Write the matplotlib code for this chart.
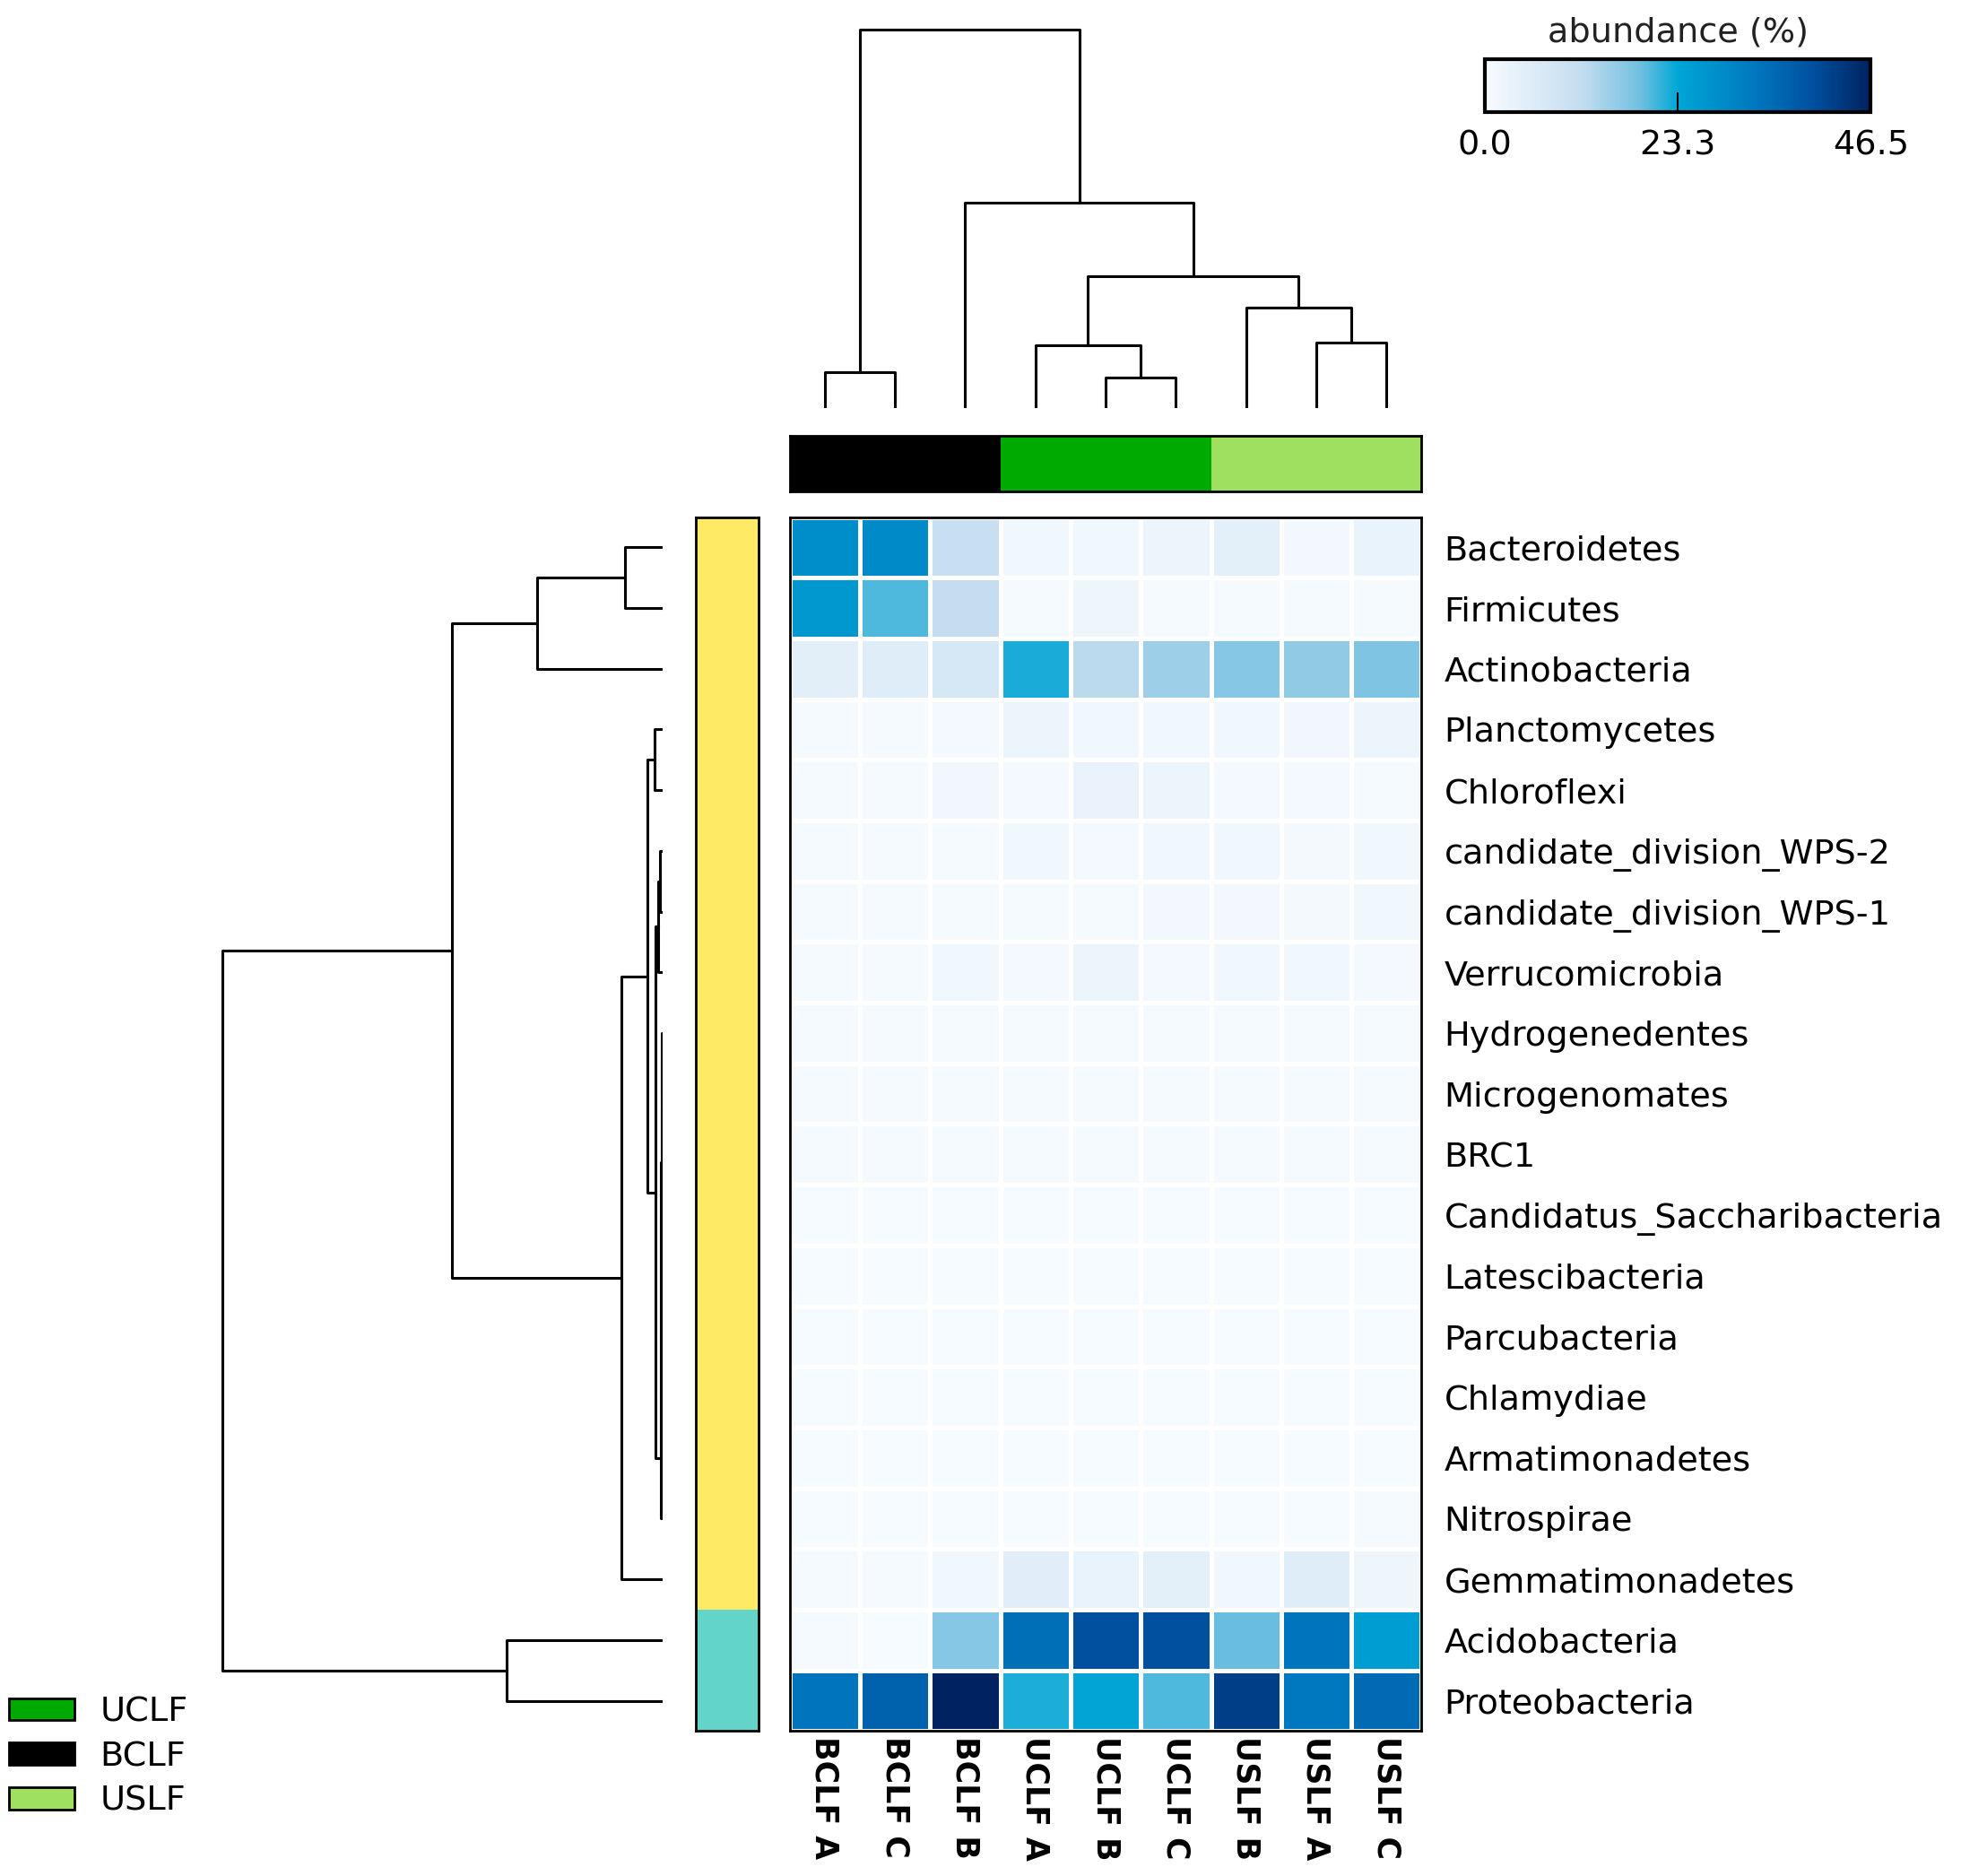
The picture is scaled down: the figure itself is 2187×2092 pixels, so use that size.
import numpy as np
import matplotlib
matplotlib.use("Agg")
import matplotlib.pyplot as plt
from matplotlib.colors import LinearSegmentedColormap, ListedColormap
from matplotlib.patches import Patch

# samples (column order after clustering)
samples = ["BCLF A", "BCLF C", "BCLF B", "UCLF A", "UCLF B", "UCLF C",
           "USLF B", "USLF A", "USLF C"]
sample_groups = ["BCLF", "BCLF", "BCLF", "UCLF", "UCLF", "UCLF",
                 "USLF", "USLF", "USLF"]

phyla = ["Bacteroidetes", "Firmicutes", "Actinobacteria", "Planctomycetes",
         "Chloroflexi", "candidate_division_WPS-2", "candidate_division_WPS-1",
         "Verrucomicrobia", "Hydrogenedentes", "Microgenomates", "BRC1",
         "Candidatus_Saccharibacteria", "Latescibacteria", "Parcubacteria",
         "Chlamydiae", "Armatimonadetes", "Nitrospirae", "Gemmatimonadetes",
         "Acidobacteria", "Proteobacteria"]
phylum_cluster = [0] * 18 + [1, 1]

# abundance (%) per phylum, one list per row
abundance = [
    [28.0, 29.0, 11.0, 1.8, 1.8, 2.5, 4.5, 1.2, 3.2],
    [26.0, 20.0, 11.5, 0.5, 2.0, 0.6, 0.6, 0.6, 0.6],
    [4.8, 5.5, 7.5, 22.3, 12.5, 15.0, 17.0, 16.0, 17.5],
    [0.4, 0.4, 1.0, 2.2, 1.4, 1.8, 1.8, 1.6, 2.6],
    [0.6, 0.6, 1.5, 1.0, 3.0, 2.4, 1.0, 1.0, 0.6],
    [0.6, 0.6, 0.6, 1.8, 1.0, 1.4, 1.4, 0.8, 1.4],
    [0.5, 0.5, 0.6, 0.6, 0.6, 1.2, 1.2, 0.8, 1.4],
    [0.5, 0.5, 1.4, 1.0, 2.4, 1.0, 1.4, 1.4, 1.0],
    [0.4, 0.4, 0.4, 0.4, 0.4, 0.4, 0.4, 0.4, 0.4],
    [0.4, 0.4, 0.4, 0.4, 0.4, 0.4, 0.4, 0.4, 0.4],
    [0.4, 0.4, 0.4, 0.4, 0.4, 0.4, 0.4, 0.4, 0.4],
    [0.3, 0.3, 0.3, 0.3, 0.3, 0.3, 0.3, 0.3, 0.3],
    [0.3, 0.3, 0.3, 0.3, 0.3, 0.3, 0.3, 0.3, 0.3],
    [0.3, 0.3, 0.3, 0.3, 0.3, 0.3, 0.3, 0.3, 0.3],
    [0.3, 0.3, 0.3, 0.3, 0.3, 0.3, 0.3, 0.3, 0.3],
    [0.3, 0.3, 0.3, 0.3, 0.3, 0.3, 0.3, 0.3, 0.3],
    [0.3, 0.3, 0.3, 0.3, 0.3, 0.3, 0.3, 0.3, 0.4],
    [0.4, 0.4, 1.4, 5.0, 3.4, 4.4, 1.4, 5.5, 2.0],
    [0.5, 0.3, 17.0, 34.0, 39.5, 39.5, 19.0, 33.0, 25.0],
    [33.0, 36.5, 46.5, 22.0, 23.5, 20.0, 42.0, 32.5, 35.0],
]

# linkage: (node a, node b, height); new nodes numbered from n upwards
col_merges = [(4, 5, 3.4), (0, 1, 4.0), (3, 9, 7.1), (7, 8, 7.4),
              (6, 12, 11.3), (11, 13, 14.8), (2, 14, 23.1), (10, 15, 42.5)]
row_merges = [(0, 1, 4.2), (20, 2, 14.0), (18, 19, 17.5), (3, 4, 0.9),
              (5, 6, 0.25), (24, 7, 0.5), (8, 9, 0.05), (26, 10, 0.08),
              (27, 11, 0.1), (28, 12, 0.12), (29, 13, 0.14), (30, 14, 0.16),
              (31, 15, 0.18), (32, 16, 0.2), (25, 33, 0.8), (23, 34, 1.7),
              (35, 17, 4.6), (21, 36, 23.6), (37, 22, 49.3)]

group_colors = {"UCLF": "#00aa00", "BCLF": "#000000", "USLF": "#a0e060"}
cluster_colors = ["#feea64", "#62d5c8"]

cmap = LinearSegmentedColormap.from_list("abund", [
    (0.0, "#f7fbff"), (0.25, "#c4ddf0"), (0.4, "#72c0e0"), (0.5, "#00a6d6"),
    (0.7, "#0078bf"), (0.85, "#00509f"), (1.0, "#002260")])

W, H = 2187, 2092
S = 0.994
FS = 27.5


def px_axes(fig, x0, y0, x1, y1):
    x0, y0, x1, y1 = x0 * S, y0 * S, x1 * S, y1 * S
    return fig.add_axes([x0 / W, 1 - y1 / H, (x1 - x0) / W, (y1 - y0) / H])


def dendro_segments(merges, n):
    pos = {i: i + 0.5 for i in range(n)}
    hgt = {i: 0.0 for i in range(n)}
    segs = []
    for k, (a, b, h) in enumerate(merges):
        segs.append(([pos[a], pos[a], pos[b], pos[b]], [hgt[a], h, h, hgt[b]]))
        pos[n + k] = (pos[a] + pos[b]) / 2
        hgt[n + k] = h
    return segs


fig = plt.figure(figsize=(W / 100, H / 100), dpi=100)
plt.rcParams['font.family'] = ['DejaVu Sans']

data = np.array(abundance)
nr, nc = data.shape

# heatmap
ax = px_axes(fig, 886, 580, 1595, 1942)
ax.pcolormesh(np.arange(nc + 1), np.arange(nr + 1), data, cmap=cmap,
              vmin=0, vmax=46.5, edgecolor="white", linewidth=2.2)
ax.set_xlim(0, nc)
ax.set_ylim(nr, 0)
ax.set_xticks(np.arange(nc) + 0.5)
ax.set_xticklabels(samples, rotation=270, fontsize=25, fontweight="bold")
ax.set_yticks(np.arange(nr) + 0.5)
ax.set_yticklabels(phyla, fontsize=FS)
ax.yaxis.tick_right()
ax.tick_params(axis="x", length=0, pad=4)
ax.tick_params(axis="y", length=0, pad=18)
for s in ax.spines.values():
    s.set_linewidth(2)

# column group bar
cbar_ax = px_axes(fig, 886, 489, 1595, 551)
cbar_ax.pcolormesh(np.arange(nc + 1), [0, 1], np.arange(nc).reshape(1, -1),
                   cmap=ListedColormap([group_colors[g] for g in sample_groups]))
cbar_ax.set_xticks([])
cbar_ax.set_yticks([])
for s in cbar_ax.spines.values():
    s.set_linewidth(2)

# row cluster bar
rbar_ax = px_axes(fig, 781, 580, 851, 1942)
rbar_ax.pcolormesh([0, 1], np.arange(nr + 1),
                   np.array(phylum_cluster).reshape(-1, 1),
                   cmap=ListedColormap(cluster_colors), vmin=0, vmax=1)
rbar_ax.set_ylim(nr, 0)
rbar_ax.set_xticks([])
rbar_ax.set_yticks([])
for s in rbar_ax.spines.values():
    s.set_linewidth(2)

# column dendrogram
cd = px_axes(fig, 886, 20, 1595, 458)
for xs, ys in dendro_segments(col_merges, nc):
    cd.plot(xs, ys, color="black", lw=2.2)
cd.set_xlim(0, nc)
cd.set_ylim(0, 43.8)
cd.axis("off")

# row dendrogram
rd = px_axes(fig, 200, 580, 743, 1942)
for ys, xs in dendro_segments(row_merges, nr):
    rd.plot(xs, ys, color="black", lw=2.2)
rd.set_ylim(nr, 0)
rd.set_xlim(54.3, 0)
rd.axis("off")

# colour scale
cax = px_axes(fig, 1666, 66, 2099, 126)
sm = plt.cm.ScalarMappable(cmap=cmap, norm=plt.Normalize(0, 46.5))
cb = fig.colorbar(sm, cax=cax, orientation="horizontal")
cb.set_ticks([0, 23.25, 46.5])
cb.set_ticklabels(["0.0", "23.3", "46.5"])
cax.tick_params(direction="in", length=16, width=1.5, labelsize=FS, pad=14)
cb.outline.set_linewidth(3)
cax.set_title("abundance (%)", fontsize=FS, pad=14, color="#222222")

# group legend
handles = [Patch(facecolor=group_colors[g], edgecolor="black", linewidth=2,
                 label=g) for g in ["UCLF", "BCLF", "USLF"]]
fig.legend(handles=handles, loc="lower left", bbox_to_anchor=(-0.004, 0.022),
           frameon=False, fontsize=FS, handlelength=1.9, handleheight=0.62,
           labelspacing=0.36, borderaxespad=0.1, handletextpad=0.75)

fig.savefig("out.png", dpi=100)
